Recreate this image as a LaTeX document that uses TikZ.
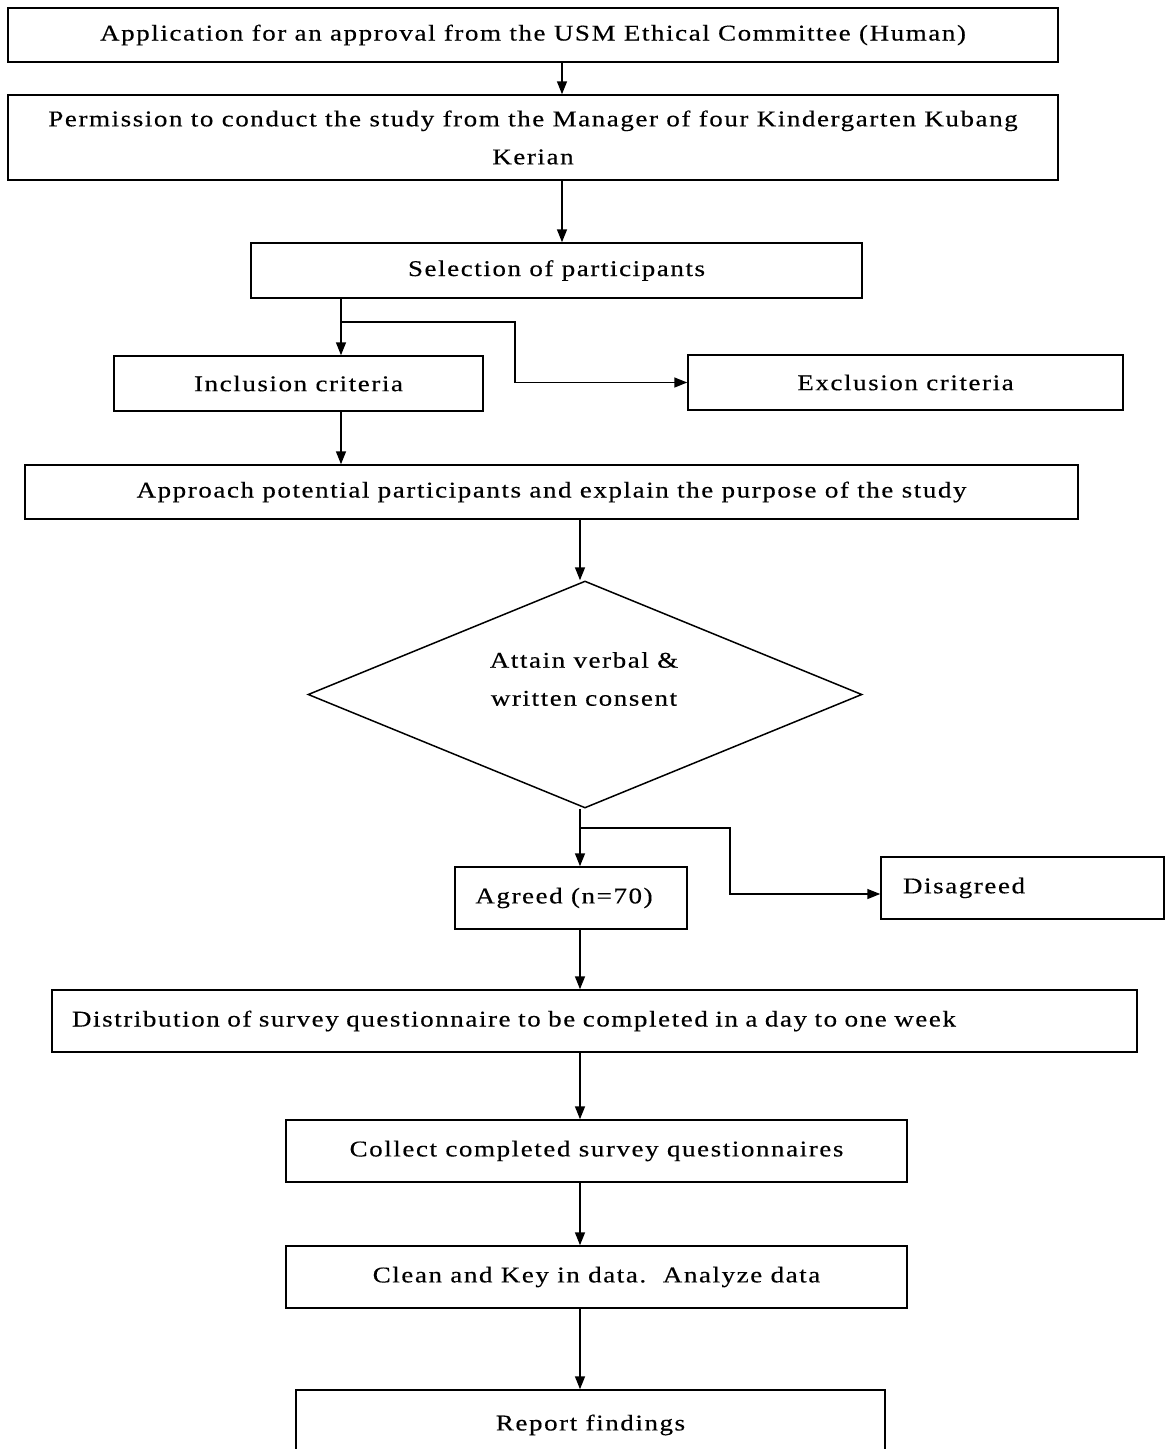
\documentclass[tikz,border=0pt]{standalone}
\usepackage{fontspec}
\setmainfont{Liberation Serif}[FakeStretch=1.2,LetterSpace=7,FakeBold=0.4]
\usetikzlibrary{arrows.meta,shapes.geometric}
\begin{document}
\begin{tikzpicture}[x=1pt,y=-1pt,
  every node/.style={font=\fontsize{22.5}{38}\selectfont},
  box/.style={draw, line width=1.5pt, inner sep=0pt, align=center},
  arr/.style={line width=1.5pt, -{Triangle[length=13pt,width=10pt]}},
  ln/.style={line width=1.5pt}]
\useasboundingbox (0,0) rectangle (1167,1449);
\clip (0,0) rectangle (1167,1449);
% boxes
\node[box, minimum width=1050pt, minimum height=54pt] (A) at (533,35) {Application for an approval from the USM Ethical Committee (Human)};
\node[box, minimum width=1050pt, minimum height=85pt] (B) at (533,137.5) {Permission to conduct the study from the Manager of four Kindergarten Kubang\\Kerian};
\node[box, minimum width=611pt, minimum height=55pt] (C) at (556.5,270.5) {Selection of participants};
\node[box, minimum width=369pt, minimum height=55pt] (Inc) at (298.5,383.5) {Inclusion criteria};
\node[box, minimum width=435pt, minimum height=55pt] (Exc) at (905.5,382.5) {Exclusion criteria};
\node[box, minimum width=1053pt, minimum height=54pt] (App) at (551.5,492) {Approach potential participants and explain the purpose of the study};
\node[draw, line width=1.5pt, shape=diamond, inner sep=0pt, minimum width=554pt, minimum height=227pt] (D) at (585,694.5) {};
\node[align=center, inner sep=0pt] (Dt) at (584,679) {Attain verbal \&\\written consent};
\node[box, minimum width=232pt, minimum height=62pt] (Ag) at (571,898) {\raisebox{3pt}{Agreed (n=70)}\hspace{14pt}};
\node[box, minimum width=283pt, minimum height=62pt, text width=239pt, align=left] (Dis) at (1022.5,888) {\raisebox{5pt}{Disagreed}};
\node[box, minimum width=1085pt, minimum height=62pt, text width=1045pt, align=left] (Dist) at (594.5,1021) {\raisebox{3pt}{Distribution of survey questionnaire to be completed in a day to one week}};
\node[box, minimum width=621pt, minimum height=62pt] (Col) at (596.5,1151) {\raisebox{4pt}{Collect completed survey questionnaires}};
\node[box, minimum width=621pt, minimum height=62pt] (Cln) at (596.5,1277) {\raisebox{4pt}{Clean and Key in data.\ \ Analyze data}};
\node[box, minimum width=589pt, minimum height=70pt] (Rep) at (590.5,1425) {\raisebox{5pt}{Report findings}};
% helper coordinates
\coordinate (x562) at (562,0);
\coordinate (x341) at (341,0);
\coordinate (x580) at (580,0);
\coordinate (b1) at (515,0);
\coordinate (b2) at (730,0);
\coordinate (j1) at (341,322);
\coordinate (j2) at (580,828);
% connectors
\draw[arr] (x562 |- A.south) -- (x562 |- B.north);
\draw[arr] (x562 |- B.south) -- (x562 |- C.north);
\draw[arr] (x341 |- C.south) -- (x341 |- Inc.north);
\draw[arr] (j1) -- (j1 -| b1) |- (Exc.west);
\draw[arr] (x341 |- Inc.south) -- (x341 |- App.north);
\draw[arr] (x580 |- App.south) -- (x580 |- D.north);
\draw[arr] (x580 |- D.south) -- (x580 |- Ag.north);
\draw[arr] (j2) -- (j2 -| b2) |- ([yshift=-6pt]Dis.west);
\draw[arr] (x580 |- Ag.south) -- (x580 |- Dist.north);
\draw[arr] (x580 |- Dist.south) -- (x580 |- Col.north);
\draw[arr] (x580 |- Col.south) -- (x580 |- Cln.north);
\draw[arr] (x580 |- Cln.south) -- (x580 |- Rep.north);
\end{tikzpicture}
\end{document}
